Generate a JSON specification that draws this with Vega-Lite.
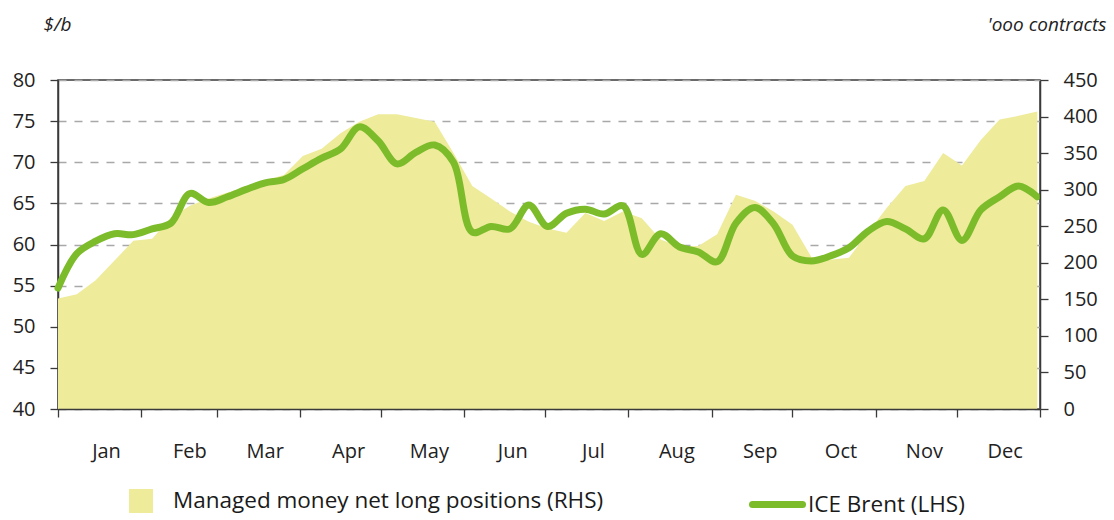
{
  "$schema": "https://vega.github.io/schema/vega-lite/v6.json",
  "width": 982,
  "height": 329,
  "autosize": "none",
  "padding": {"left": 58, "top": 80, "right": 74, "bottom": 111},
  "background": "white",
  "config": {
    "font": "Open Sans",
    "view": {"stroke": "#3a3a3a", "strokeWidth": 1.5},
    "axis": {
      "labelFont": "Open Sans",
      "labelFontSize": 20,
      "labelColor": "#222222",
      "domainColor": "#3a3a3a",
      "domainWidth": 1.5,
      "tickColor": "#3a3a3a",
      "tickWidth": 1.3,
      "tickSize": 8,
      "titleFont": "Open Sans",
      "titleFontSize": 19,
      "titleFontStyle": "italic",
      "titleFontWeight": "normal",
      "titleColor": "#222222"
    },
    "legend": {
      "labelFont": "Open Sans",
      "labelFontSize": 22.5,
      "labelColor": "#1a1a1a",
      "labelLimit": 700,
      "padding": 0
    }
  },
  "data": {
    "values": [
      {"date": "2019-01-01", "brent": 54.7, "mm": 151},
      {"date": "2019-01-08", "brent": 58.9, "mm": 157},
      {"date": "2019-01-15", "brent": 60.4, "mm": 176},
      {"date": "2019-01-22", "brent": 61.3, "mm": 203},
      {"date": "2019-01-29", "brent": 61.2, "mm": 230},
      {"date": "2019-02-05", "brent": 61.9, "mm": 233},
      {"date": "2019-02-12", "brent": 62.6, "mm": 262},
      {"date": "2019-02-19", "brent": 66.2, "mm": 278},
      {"date": "2019-02-26", "brent": 65.1, "mm": 288},
      {"date": "2019-03-05", "brent": 65.8, "mm": 296},
      {"date": "2019-03-12", "brent": 66.7, "mm": 304},
      {"date": "2019-03-19", "brent": 67.5, "mm": 313},
      {"date": "2019-03-26", "brent": 67.9, "mm": 320},
      {"date": "2019-04-02", "brent": 69.2, "mm": 346},
      {"date": "2019-04-09", "brent": 70.5, "mm": 356},
      {"date": "2019-04-16", "brent": 71.6, "mm": 377},
      {"date": "2019-04-23", "brent": 74.3, "mm": 393},
      {"date": "2019-04-30", "brent": 72.6, "mm": 403},
      {"date": "2019-05-07", "brent": 69.8, "mm": 403},
      {"date": "2019-05-14", "brent": 71.2, "mm": 398},
      {"date": "2019-05-21", "brent": 72.1, "mm": 393},
      {"date": "2019-05-28", "brent": 70.0, "mm": 350},
      {"date": "2019-06-04", "brent": 61.5, "mm": 305},
      {"date": "2019-06-11", "brent": 62.2, "mm": 288},
      {"date": "2019-06-18", "brent": 61.9, "mm": 270},
      {"date": "2019-06-25", "brent": 64.8, "mm": 256},
      {"date": "2019-07-02", "brent": 62.2, "mm": 247},
      {"date": "2019-07-09", "brent": 63.8, "mm": 241},
      {"date": "2019-07-16", "brent": 64.3, "mm": 268},
      {"date": "2019-07-23", "brent": 63.7, "mm": 257},
      {"date": "2019-07-30", "brent": 64.7, "mm": 270},
      {"date": "2019-08-06", "brent": 58.8, "mm": 261},
      {"date": "2019-08-13", "brent": 61.3, "mm": 232},
      {"date": "2019-08-20", "brent": 59.7, "mm": 222},
      {"date": "2019-08-27", "brent": 59.1, "mm": 223},
      {"date": "2019-09-03", "brent": 57.9, "mm": 239},
      {"date": "2019-09-10", "brent": 62.6, "mm": 293},
      {"date": "2019-09-17", "brent": 64.5, "mm": 285},
      {"date": "2019-09-24", "brent": 62.5, "mm": 270},
      {"date": "2019-10-01", "brent": 58.6, "mm": 252},
      {"date": "2019-10-08", "brent": 58.0, "mm": 208},
      {"date": "2019-10-15", "brent": 58.6, "mm": 204},
      {"date": "2019-10-22", "brent": 59.6, "mm": 207},
      {"date": "2019-10-29", "brent": 61.6, "mm": 241},
      {"date": "2019-11-05", "brent": 62.8, "mm": 275},
      {"date": "2019-11-12", "brent": 61.9, "mm": 305},
      {"date": "2019-11-19", "brent": 60.7, "mm": 312},
      {"date": "2019-11-26", "brent": 64.2, "mm": 350},
      {"date": "2019-12-03", "brent": 60.5, "mm": 333},
      {"date": "2019-12-10", "brent": 64.2, "mm": 368},
      {"date": "2019-12-17", "brent": 65.8, "mm": 396},
      {"date": "2019-12-24", "brent": 67.1, "mm": 401},
      {"date": "2019-12-31", "brent": 65.8, "mm": 407}
    ]
  },
  "layer": [
    {
      "mark": {"type": "area", "interpolate": "linear", "color": "#eeeb9b"},
      "encoding": {
        "x": {
          "field": "date",
          "type": "temporal",
          "scale": {
            "type": "utc",
            "domain": [
              {"year": 2019, "month": 1, "date": 1, "utc": true},
              {"year": 2020, "month": 1, "date": 1, "utc": true}
            ]
          },
          "axis": {
            "title": null,
            "grid": false,
            "zindex": 1,
            "values": [
              {"year": 2019, "month": 1, "date": 1, "utc": true},
              {"year": 2019, "month": 2, "date": 1, "utc": true},
              {"year": 2019, "month": 3, "date": 1, "utc": true},
              {"year": 2019, "month": 4, "date": 1, "utc": true},
              {"year": 2019, "month": 5, "date": 1, "utc": true},
              {"year": 2019, "month": 6, "date": 1, "utc": true},
              {"year": 2019, "month": 7, "date": 1, "utc": true},
              {"year": 2019, "month": 8, "date": 1, "utc": true},
              {"year": 2019, "month": 9, "date": 1, "utc": true},
              {"year": 2019, "month": 10, "date": 1, "utc": true},
              {"year": 2019, "month": 11, "date": 1, "utc": true},
              {"year": 2019, "month": 12, "date": 1, "utc": true},
              {"year": 2020, "month": 1, "date": 1, "utc": true}
            ],
            "labelExpr": "utcyear(datum.value) > 2019 ? '' : utcFormat(datum.value, '%b')",
            "labelOffset": 48,
            "labelAlign": "center",
            "labelPadding": 24,
            "labelFlush": false,
            "labelOverlap": false,
            "labelBound": false
          }
        },
        "y": {
          "field": "mm",
          "type": "quantitative",
          "scale": {"domain": [0, 450], "nice": false, "zero": true},
          "axis": {
            "orient": "right",
            "values": [0, 50, 100, 150, 200, 250, 300, 350, 400, 450],
            "grid": false,
            "zindex": 1,
            "labelPadding": 15,
            "labelAlign": "left",
            "title": "'ooo contracts",
            "titleAngle": 0,
            "titleAlign": "right",
            "titleBaseline": "alphabetic",
            "titleX": 66,
            "titleY": -50
          }
        },
        "fill": {
          "datum": "Managed money net long positions (RHS)",
          "type": "nominal",
          "scale": {"range": ["#eeeb9b"]},
          "legend": {
            "orient": "none",
            "legendX": 71,
            "legendY": 409,
            "title": null,
            "symbolType": "square",
            "symbolSize": 576,
            "symbolStrokeWidth": 0,
            "labelOffset": 20
          }
        }
      }
    },
    {
      "mark": {"type": "line", "interpolate": "catmull-rom", "strokeWidth": 7, "strokeCap": "round", "strokeJoin": "round", "color": "#7cbb2a"},
      "encoding": {
        "x": {"field": "date", "type": "temporal"},
        "y": {
          "field": "brent",
          "type": "quantitative",
          "scale": {"domain": [40, 80], "nice": false, "zero": false},
          "axis": {
            "orient": "left",
            "values": [40, 45, 50, 55, 60, 65, 70, 75, 80],
            "grid": true,
            "gridDash": [8, 8],
            "gridColor": "#a8a8a8",
            "gridWidth": 1.5,
            "labelPadding": 15,
            "title": "$/b",
            "titleAngle": 0,
            "titleAlign": "center",
            "titleBaseline": "alphabetic",
            "titleX": -1,
            "titleY": -50
          }
        },
        "stroke": {
          "datum": "ICE Brent (LHS)",
          "type": "nominal",
          "scale": {"range": ["#7cbb2a"]},
          "legend": {
            "orient": "none",
            "legendX": 691,
            "legendY": 396,
            "title": null,
            "symbolType": "stroke",
            "symbolSize": 2500,
            "symbolStrokeWidth": 7,
            "labelOffset": 2,
            "encode": {"symbols": {"update": {"strokeCap": {"value": "round"}}}}
          }
        }
      }
    }
  ],
  "resolve": {"scale": {"y": "independent", "fill": "independent", "stroke": "independent"}}
}
